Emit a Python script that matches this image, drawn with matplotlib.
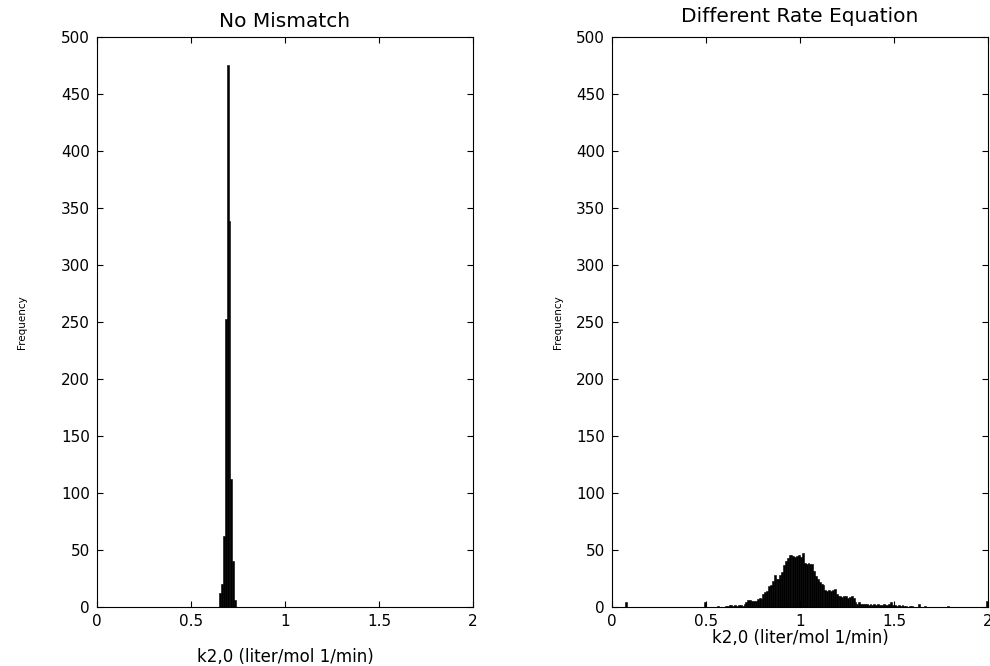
import numpy as np
import matplotlib
matplotlib.use("Agg")
import matplotlib.pyplot as plt

# left panel: "No Mismatch" histogram (bin width 0.01)
left_bin_start = 0.65
left_counts = [12, 20, 62, 253, 475, 339, 112, 40, 6]

# right panel: "Different Rate Equation" histogram, bins 0.60 .. 1.60 (width 0.01)
right_bin_start = 0.60
right_counts = [
    1, 1, 2, 2, 1, 2, 1, 2, 2, 1,
    3, 4, 6, 6, 5, 5, 5, 7, 8, 7,
    11, 13, 14, 18, 19, 23, 28, 25, 25, 28,
    31, 37, 40, 43, 46, 46, 45, 44, 45, 46,
    44, 47, 39, 38, 39, 38, 38, 32, 27, 25,
    22, 20, 19, 15, 14, 15, 14, 15, 16, 11,
    10, 10, 9, 10, 10, 8, 9, 10, 8, 4,
    3, 4, 3, 3, 3, 3, 2, 3, 2, 3,
    2, 3, 2, 2, 3, 2, 2, 3, 4, 2,
    2, 1, 2, 1, 2, 1, 1, 0, 1, 1,
]
# isolated bins outside the main bump
outlier_lefts = [0.07, 0.49, 0.56, 1.63, 1.66, 1.78, 1.99]
outlier_counts = [4, 4, 1, 3, 1, 1, 5]

bin_width = 0.01
x_ticks = [0, 0.5, 1, 1.5, 2]
x_tick_labels = ['0', '0.5', '1', '1.5', '2']
y_ticks = list(range(0, 501, 50))

plt.rcParams['font.family'] = ['DejaVu Sans']

fig = plt.figure(figsize=(9.9, 6.66), dpi=100)
ax1 = fig.add_axes([97 / 990, 59 / 666, 376 / 990, 570 / 666])
ax2 = fig.add_axes([612 / 990, 59 / 666, 376 / 990, 570 / 666])

left_lefts = left_bin_start + bin_width * np.arange(len(left_counts))
ax1.bar(left_lefts, left_counts, width=bin_width, align='edge',
        color='black', edgecolor='black', linewidth=0.4)

right_lefts = right_bin_start + bin_width * np.arange(len(right_counts))
ax2.bar(right_lefts, right_counts, width=bin_width, align='edge',
        color='black', edgecolor='black', linewidth=0.4)
ax2.bar(outlier_lefts, outlier_counts, width=bin_width, align='edge',
        color='black', edgecolor='black', linewidth=0.4)

# title pad, xlabel pad, ylabel x position (axes coords)
panels = [(ax1, 'No Mismatch', 7, 14, -0.187), (ax2, 'Different Rate Equation', 11, 0, -0.13)]
for ax, title, tpad, xpad, ylx in panels:
    ax.set_xlim(0, 2)
    ax.set_ylim(0, 500)
    ax.set_xticks(x_ticks)
    ax.set_xticklabels(x_tick_labels)
    ax.set_yticks(y_ticks)
    ax.tick_params(direction='in', length=4, width=0.8, top=True, right=True,
                   labelsize=11, pad=5)
    for s in ax.spines.values():
        s.set_linewidth(0.8)
    ax.set_title(title, fontsize=14.5, pad=tpad)
    ax.set_xlabel('k2,0 (liter/mol 1/min)', fontsize=12, labelpad=xpad)
    ax.set_ylabel('Frequency', fontsize=7.5)
    ax.yaxis.set_label_coords(ylx, 0.5)

fig.savefig('out.png', dpi=100)
